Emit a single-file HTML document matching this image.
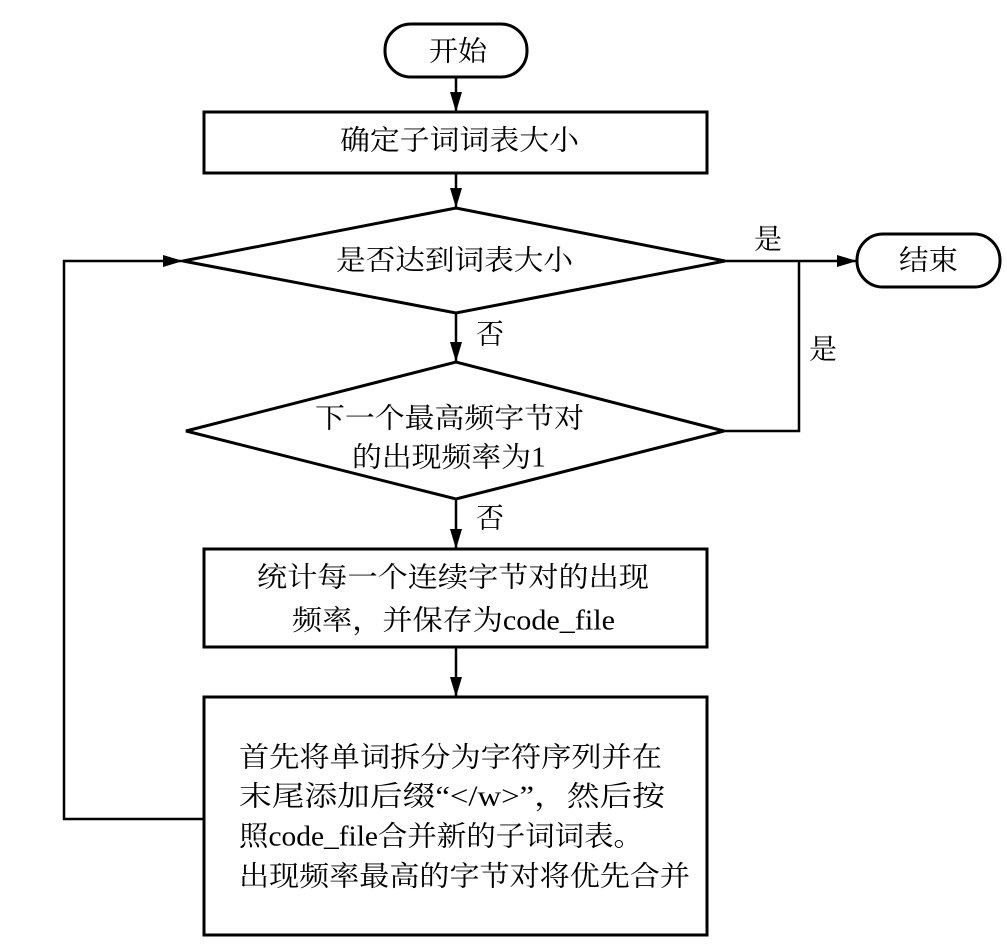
<!DOCTYPE html>
<html><head><meta charset="utf-8"><style>html,body{margin:0;padding:0;background:#fff}svg{display:block}</style></head>
<body>
<svg width="1007" height="948" viewBox="0 0 1007 948" xmlns="http://www.w3.org/2000/svg">
<defs><marker id="a" markerWidth="10" markerHeight="8" refX="10" refY="4" orient="auto" markerUnits="userSpaceOnUse" viewBox="0 0 10 8"><path d="M0,0 L10,4 L0,8 z" fill="#000"/></marker>
<marker id="b" markerWidth="20" markerHeight="12" refX="20" refY="6" orient="auto" markerUnits="userSpaceOnUse" viewBox="0 0 20 12"><path d="M0,0 L20,6 L0,12 z" fill="#000"/></marker></defs>
<g fill="none" stroke="#000" stroke-width="3">
<rect x="385" y="24" width="142" height="53" rx="26"/>
<rect x="204" y="112" width="503" height="61"/>
<polygon points="183,261 456,208 725,261 456,313"/>
<polygon points="186,431 456,362 724,431 456,499"/>
<rect x="204" y="549" width="503" height="98"/>
<rect x="204" y="697" width="503" height="238"/>
<rect x="857" y="234" width="143" height="53" rx="26"/>
</g>
<g stroke="#000" stroke-width="2.5" fill="none">
<line x1="456" y1="77" x2="456" y2="112" marker-end="url(#b)"/>
<line x1="456" y1="173" x2="456" y2="208" marker-end="url(#b)"/>
<line x1="456" y1="313" x2="456" y2="362" marker-end="url(#b)"/>
<line x1="456" y1="499" x2="456" y2="549" marker-end="url(#b)"/>
<line x1="456" y1="647" x2="456" y2="697" marker-end="url(#b)"/>
<polyline points="204,819 64,819 64,261 183,261" marker-end="url(#b)"/>
<line x1="725" y1="261" x2="857" y2="261" marker-end="url(#b)"/>
<polyline points="724,431 799,431 799,261"/>
</g>
<g font-family="'Liberation Serif','Noto Serif CJK SC','Noto Sans CJK SC',serif" font-size="28" fill="#000" dominant-baseline="central" lengthAdjust="spacingAndGlyphs">
<text x="429" y="52" textLength="58" lengthAdjust="spacingAndGlyphs">开始</text>
<text x="340" y="141" textLength="239" lengthAdjust="spacingAndGlyphs">确定子词词表大小</text>
<text x="336" y="261" textLength="237" lengthAdjust="spacingAndGlyphs">是否达到词表大小</text>
<text x="899" y="261" textLength="59" lengthAdjust="spacingAndGlyphs">结束</text>
<text x="754" y="240" textLength="28" lengthAdjust="spacingAndGlyphs">是</text>
<text x="809" y="350" textLength="28" lengthAdjust="spacingAndGlyphs">是</text>
<text x="476" y="335" textLength="28" lengthAdjust="spacingAndGlyphs">否</text>
<text x="476" y="519" textLength="28" lengthAdjust="spacingAndGlyphs">否</text>
<text x="315" y="419" textLength="269" lengthAdjust="spacingAndGlyphs">下一个最高频字节对</text>
<text x="352" y="458" textLength="194" lengthAdjust="spacingAndGlyphs">的出现频率为1</text>
<text x="257" y="578" textLength="392" lengthAdjust="spacingAndGlyphs">统计每一个连续字节对的出现</text>
<text x="292" y="621" textLength="323" lengthAdjust="spacingAndGlyphs">频率，并保存为code_file</text>
<text x="239" y="758" textLength="423" lengthAdjust="spacingAndGlyphs">首先将单词拆分为字符序列并在</text>
<text x="239" y="797" textLength="426" lengthAdjust="spacingAndGlyphs">末尾添加后缀“&lt;/w&gt;”，然后按</text>
<text x="239" y="837" textLength="404" lengthAdjust="spacingAndGlyphs">照code_file合并新的子词词表。</text>
<text x="239" y="877" textLength="451" lengthAdjust="spacingAndGlyphs">出现频率最高的字节对将优先合并</text>
</g>
</svg>
</body></html>
